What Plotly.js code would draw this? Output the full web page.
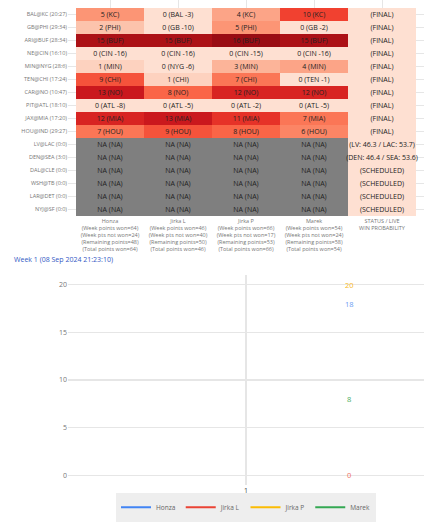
<!DOCTYPE html>
<html>
<head>
<meta charset="utf-8">
<script src="https://cdn.plot.ly/plotly-3.0.1.min.js"></script>
<style>
  html, body { margin: 0; padding: 0; background: #fff; }
  #chart { width: 435px; height: 530px; }
</style>
</head>
<body>
<div id="chart"></div>
<script>
// ---------- DATA ----------
const games = [
  "BAL@KC (20:27)", "GB@PHI (29:34)", "ARI@BUF (28:34)", "NE@CIN (16:10)",
  "MIN@NYG (28:6)", "TEN@CHI (17:24)", "CAR@NO (10:47)", "PIT@ATL (18:10)",
  "JAX@MIA (17:20)", "HOU@IND (29:27)", "LV@LAC (0:0)", "DEN@SEA (3:0)",
  "DAL@CLE (0:0)", "WSH@TB (0:0)", "LAR@DET (0:0)", "NYJ@SF (0:0)"
];
const players = ["Honza", "Jirka L", "Jirka P", "Marek"];

const honzaPoints  = [5, 2, 15, 0, 1, 9, 13, 0, 12, 7, null, null, null, null, null, null];
const honzaPicks   = ["KC", "PHI", "BUF", "CIN -16", "MIN", "CHI", "NO", "ATL -8", "MIA", "HOU", "NA", "NA", "NA", "NA", "NA", "NA"];
const jirkaLPoints = [0, 0, 15, 0, 0, 1, 8, 0, 13, 9, null, null, null, null, null, null];
const jirkaLPicks  = ["BAL -3", "GB -10", "BUF", "CIN -16", "NYG -6", "CHI", "NO", "ATL -5", "MIA", "HOU", "NA", "NA", "NA", "NA", "NA", "NA"];
const jirkaPPoints = [4, 5, 16, 0, 3, 7, 12, 0, 11, 8, null, null, null, null, null, null];
const jirkaPPicks  = ["KC", "PHI", "BUF", "CIN -15", "MIN", "CHI", "NO", "ATL -2", "MIA", "HOU", "NA", "NA", "NA", "NA", "NA", "NA"];
const marekPoints  = [10, 0, 15, 0, 4, 0, 12, 0, 7, 6, null, null, null, null, null, null];
const marekPicks   = ["KC", "GB -2", "BUF", "CIN -16", "MIN", "TEN -1", "NO", "ATL -5", "MIA", "HOU", "NA", "NA", "NA", "NA", "NA", "NA"];

const gameStatus = [
  "(FINAL)", "(FINAL)", "(FINAL)", "(FINAL)", "(FINAL)", "(FINAL)", "(FINAL)", "(FINAL)",
  "(FINAL)", "(FINAL)", "(LV: 46.3 / LAC: 53.7)", "(DEN: 46.4 / SEA: 53.6)",
  "(SCHEDULED)", "(SCHEDULED)", "(SCHEDULED)", "(SCHEDULED)"
];

const weekPointsWon    = [64, 46, 66, 54];
const weekPtsNotWon    = [24, 40, 17, 24];
const remainingPoints  = [48, 50, 53, 58];
const totalPointsWon   = [64, 46, 66, 54];
const statusLabel = "STATUS / LIVE<br>WIN PROBABILITY";

const weeks = [1];
const honzaWeek  = [18];
const jirkaLWeek = [0];
const jirkaPWeek = [20];
const marekWeek  = [8];
const chartTitle = "Week 1 (08 Sep 2024 21:23:10)";

// ---------- BUILD ----------
const colLabels = players.map((p, i) =>
  `${p}<br>(Week points won=${weekPointsWon[i]})<br>(Week pts not won=${weekPtsNotWon[i]})` +
  `<br>(Remaining points=${remainingPoints[i]})<br>(Total points won=${totalPointsWon[i]})`
).concat([statusLabel]);

const pointCols = [honzaPoints, jirkaLPoints, jirkaPPoints, marekPoints];
const pickCols  = [honzaPicks, jirkaLPicks, jirkaPPicks, marekPicks];

const NA_CODE = -1;   // colour code for "not available" cells (drawn grey)
const zMat = [], tMat = [];
games.forEach((g, r) => {
  const zr = [], tr = [];
  pointCols.forEach((col, c) => {
    const v = col[r];
    if (v === null) { zr.push(NA_CODE); tr.push("NA (" + pickCols[c][r] + ")"); }
    else { zr.push(v); tr.push(v + " (" + pickCols[c][r] + ")"); }
  });
  zr.push(0); tr.push(gameStatus[r]);
  zMat.push(zr); tMat.push(tr);
});

const zMin = NA_CODE, zMax = 16;
const span = zMax - zMin;
const reds = [
  [0.0, "#fee0d2"], [0.161, "#fcbba1"], [0.3226, "#fc9272"], [0.4839, "#fb6a4a"],
  [0.6452, "#ef3b2c"], [0.8065, "#cb181d"], [0.9677, "#a50f15"], [1.0, "rgb(153,12,19)"]
];
const colorscale = [[0, "#7f7f7f"], [0.5 / span, "#7f7f7f"]].concat(
  reds.map(([p, c]) => [(-zMin + p * zMax) / span, c])
);

// geometry: whole-pixel cells (68 x 13 px) so bricks meet without seams
const W = 435, H = 530, ML = 68, MR = 11, MT = 0, MB = 45;
const plotW = W - ML - MR, plotH = H - MT - MB;
const cellW = 68, cellH = 13, heatTopPad = 8;
const heatH = heatTopPad + games.length * cellH;          // 216
const xPad = (plotW - colLabels.length * cellW) / 2 / cellW;
const yTopPad = heatTopPad / cellH;

const cellFont = { family: "Open Sans", size: 7, color: "#222" };

const traces = [{
  type: "heatmap", x: colLabels, y: games, z: zMat, text: tMat,
  texttemplate: "%{text}", textfont: cellFont,
  colorscale: colorscale, zmin: zMin, zmax: zMax, zsmooth: false,
  showscale: false, hoverinfo: "skip", xaxis: "x", yaxis: "y", showlegend: false
}];

const series = [
  { name: "Honza",   y: honzaWeek,  color: "#4285F4", label: "#6b9cf3" },
  { name: "Jirka L", y: jirkaLWeek, color: "#EA4335", label: "#ef6f64" },
  { name: "Jirka P", y: jirkaPWeek, color: "#FBBC04", label: "#f8b91c" },
  { name: "Marek",   y: marekWeek,  color: "#34A853", label: "#46ad62" }
];

const annotations = [{
  text: chartTitle, xref: "paper", yref: "paper", x: -0.157, y: 0.464,
  xanchor: "left", yanchor: "middle", showarrow: false,
  font: { family: "Open Sans", size: 7, color: "#3358c4" }
}];

series.forEach(s => {
  traces.push({
    type: "scatter", mode: "lines", x: weeks, y: s.y, name: s.name,
    line: { color: s.color, width: 2 }, xaxis: "x2", yaxis: "y2", hoverinfo: "skip"
  });
  annotations.push({
    x: weeks[weeks.length - 1], y: s.y[s.y.length - 1], xref: "x2", yref: "y2",
    text: String(s.y[s.y.length - 1]), showarrow: false, xshift: 103,
    font: { family: "Open Sans", size: 7.5, color: s.label }
  });
});

const gridC = "#e6e6e6";
const tickFont = { family: "Open Sans", size: 5.5, color: "#777" };

const layout = {
  width: W, height: H,
  margin: { l: ML, r: MR, t: MT, b: MB },
  paper_bgcolor: "#fff", plot_bgcolor: "#fff",
  font: { family: "Open Sans", color: "#444" },
  xaxis: {
    domain: [0, 1], anchor: "y", type: "category",
    range: [-0.5 - xPad, colLabels.length - 0.5 + xPad],
    showgrid: true, gridcolor: gridC, gridwidth: 1,
    zeroline: false, showline: false, ticks: "",
    tickfont: tickFont, tickangle: 0, fixedrange: true
  },
  yaxis: {
    domain: [(plotH - heatH) / plotH, 1], anchor: "x", type: "category",
    range: [games.length - 0.5, -0.5 - yTopPad],
    showgrid: true, gridcolor: gridC, gridwidth: 1,
    zeroline: false, showline: false, ticks: "",
    tickfont: tickFont, fixedrange: true
  },
  xaxis2: {
    domain: [0, 1], anchor: "y2", range: [0, 2], tickvals: weeks,
    showgrid: true, gridcolor: gridC, gridwidth: 1.5, zeroline: false,
    showline: false, ticks: "",
    tickfont: { family: "Open Sans", size: 7, color: "#444" }
  },
  yaxis2: {
    domain: [0, 0.433], anchor: "x2", range: [-1, 21], dtick: 5,
    showgrid: true, gridcolor: gridC, gridwidth: 1.5, zeroline: false,
    showline: false, ticks: "",
    tickfont: { family: "Open Sans", size: 7, color: "#777" }
  },
  showlegend: true,
  legend: {
    orientation: "h", x: 0.5, xanchor: "center", y: -0.016, yanchor: "top",
    bgcolor: "#eeeeee", font: { family: "Open Sans", size: 6.5, color: "#666" },
    itemwidth: 30
  },
  annotations: annotations
};

Plotly.newPlot("chart", traces, layout, { displayModeBar: false, staticPlot: true });
</script>
</body>
</html>
